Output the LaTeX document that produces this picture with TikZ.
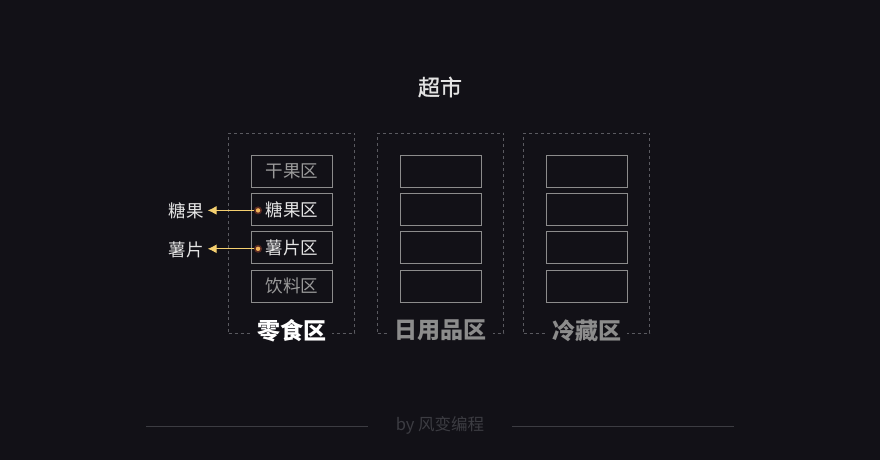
\documentclass[tikz,border=0pt]{standalone}
\usepackage{fontspec}
\setmainfont{Noto Sans CJK SC}
\newfontfamily\cjksemi{Noto Sans CJK SC}[FakeBold=1.2]
\usetikzlibrary{positioning,arrows.meta}
\definecolor{bgdark}{HTML}{121117}
\definecolor{dashgray}{HTML}{5A5A60}
\definecolor{boxgray}{HTML}{8C8C8C}
\definecolor{textgray}{HTML}{9A9A9A}
\definecolor{textlight}{HTML}{E4E4E4}
\definecolor{arrowyellow}{HTML}{F5D070}
\definecolor{dotring}{HTML}{5C2A22}
\definecolor{dotcore}{HTML}{F2B45A}
\definecolor{footgray}{HTML}{3C3C42}
\tikzset{
    area/.style={draw=dashgray, dashed, line width=0.9pt, minimum width=126pt, minimum height=200pt},
    shelf/.style={draw=boxgray, line width=0.9pt, minimum width=81pt, minimum height=32pt, inner sep=0pt,
        text=textgray, font=\fontsize{17.5}{20}\selectfont},
    areaname/.style={fill=bgdark, inner xsep=6pt, inner ysep=1pt, font=\fontsize{23}{26}\selectfont\bfseries},
    goods/.style={text=textlight, inner sep=4pt, font=\fontsize{17.5}{20}\selectfont},
    pick/.style={draw=arrowyellow, line width=1pt, -{Latex[length=9pt,width=9pt]}}
}
\begin{document}
\begin{tikzpicture}[x=1pt, y=-1pt, node distance=5.5pt]
        \fill[bgdark] (0,0) rectangle (880,460);
        \useasboundingbox (0,0) rectangle (880,460);

        % Title
        \node[text=textlight, font=\fontsize{22}{26}\selectfont\cjksemi] (market) at (440,87) {超市};

        % Areas
        \node[area] (snack) at (291.5,233) {};
        \node[area] (daily) at (440.5,233) {};
        \node[area] (cold) at (586.5,233) {};

        % Snack shelves
        \node[shelf] (dry) at (292,171) {干果区};
        \node[shelf, below=of dry, text=textlight] (candy) {糖果区};
        \node[shelf, below=of candy, text=textlight] (chips) {薯片区};
        \node[shelf, below=of chips] (drink) {饮料区};

        % Daily shelves
        \node[shelf] (dailyA) at (440.8,171) {};
        \node[shelf, below=of dailyA] (dailyB) {};
        \node[shelf, below=of dailyB] (dailyC) {};
        \node[shelf, below=of dailyC] (dailyD) {};

        % Cold shelves
        \node[shelf] (coldA) at (586.8,171) {};
        \node[shelf, below=of coldA] (coldB) {};
        \node[shelf, below=of coldB] (coldC) {};
        \node[shelf, below=of coldC] (coldD) {};

        % Area names
        \node[areaname, text=white, yshift=3pt] at (snack.south) {零食区};
        \node[areaname, text=boxgray, yshift=3pt] at (daily.south) {日用品区};
        \node[areaname, text=boxgray, yshift=3pt] at (cold.south) {冷藏区};

        % Goods
        \node[goods] (candyname) at (186,211) {糖果};
        \node[goods] (chipsname) at (186,250) {薯片};
        \coordinate (candydot) at ([xshift=7pt,yshift=-1pt]candy.west);
        \coordinate (chipsdot) at ([xshift=7pt,yshift=-1pt]chips.west);

        % Connections
        \draw[pick] (candydot) -- (candydot -| candyname.east);
        \draw[pick] (chipsdot) -- (chipsdot -| chipsname.east);
        \foreach \d in {candydot, chipsdot} {
            \fill[dotring] (\d) circle (4pt);
            \fill[dotcore] (\d) circle (2.2pt);
        }

        % Footer
        \node[text=footgray, font=\fontsize{16.5}{19}\selectfont] (credit) at (440,425) {by 风变编程};
        \coordinate (footL) at (146,426);
        \coordinate (footR) at (734,426);
        \draw[footgray, line width=1pt] (footL) -- ([xshift=-24pt]credit.west |- footL);
        \draw[footgray, line width=1pt] ([xshift=24pt]credit.east |- footR) -- (footR);
    \end{tikzpicture}
\end{document}
